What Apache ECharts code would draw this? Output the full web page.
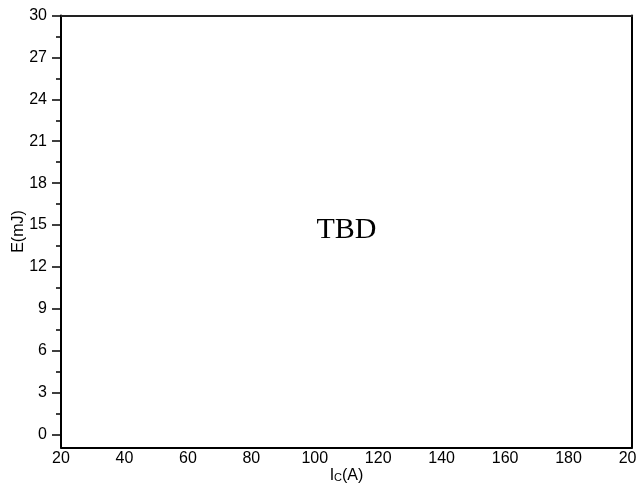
<!DOCTYPE html>
<html><head><meta charset="utf-8">
<script src="https://cdn.jsdelivr.net/npm/echarts@6/dist/echarts.min.js"></script>
<style>html,body{margin:0;padding:0;background:#fff}#c{width:636px;height:485px}</style>
</head><body><div id="c"></div>
<script>
const xMin = 20, xMax = 200, xStep = 20;
const yMin = -0.92, yMax = 30;
const yMajorTicks = [0, 3, 6, 9, 12, 15, 18, 21, 24, 27, 30];
const yMinorTicks = [1.5, 4.5, 7.5, 10.5, 13.5, 16.5, 19.5, 22.5, 25.5, 28.5];
const seriesData = [];
const placeholderText = 'TBD';

const chart = echarts.init(document.getElementById('c'), null, {renderer: 'canvas'});
const font = 'Liberation Sans, Arial, sans-serif';
const serif = 'Liberation Serif, Times New Roman, serif';
chart.setOption({
  animation: false,
  backgroundColor: '#fff',
  grid: {left: 61, right: 4, top: 15.5, bottom: 37.5, containLabel: false, outerBoundsMode: 'none'},
  xAxis: [{
    type: 'value', min: xMin, max: xMax, interval: xStep, position: 'bottom',
    axisLine: {show: true, onZero: false, lineStyle: {color: '#000', width: 2}},
    axisTick: {show: false}, splitLine: {show: false},
    axisLabel: {color: '#000', fontSize: 16, fontFamily: font, margin: 3, showMaxLabel: true, showMinLabel: true, hideOverlap: false},
    name: '{a|I}{b|C}{a|(A)}', nameLocation: 'middle', nameGap: 20, nameMoveOverlap: false,
    nameTextStyle: {rich: {a: {fontSize: 16, fontFamily: font, color: '#000'}, b: {fontSize: 11, fontFamily: font, color: '#000', padding:[4,0,0,0]}}}
  }, {
    type: 'value', min: xMin, max: xMax, position: 'top',
    axisLine: {show: true, onZero: false, lineStyle: {color: '#222', width: 2}},
    axisTick: {show: false}, axisLabel: {show: false}, splitLine: {show: false}
  }],
  yAxis: [{
    type: 'value', min: yMin, max: yMax, position: 'left',
    axisLine: {show: true, onZero: false, lineStyle: {color: '#000', width: 2}},
    axisTick: {show: true, length: 9, customValues: yMajorTicks, lineStyle: {color: '#000', width: 1.5}},
    axisLabel: {color: '#000', fontSize: 16, fontFamily: font, margin: 14, customValues: yMajorTicks},
    splitLine: {show: false},
    name: 'E(mJ)', nameLocation: 'middle', nameGap: 34, nameMoveOverlap: false,
    nameTextStyle: {fontSize: 16, fontFamily: font, color: '#000'}
  }, {
    type: 'value', min: yMin, max: yMax, position: 'left',
    axisLine: {show: false},
    axisTick: {show: true, length: 5, customValues: yMinorTicks, lineStyle: {color: '#000', width: 1.5}},
    axisLabel: {show: false}, splitLine: {show: false}
  }, {
    type: 'value', min: yMin, max: yMax, position: 'right',
    axisLine: {show: true, onZero: false, lineStyle: {color: '#000', width: 2}},
    axisTick: {show: false}, axisLabel: {show: false}, splitLine: {show: false}
  }],
  series: [{type: 'line', data: seriesData, xAxisIndex: 0, yAxisIndex: 0}]
});
// place the placeholder text at the plot centre via the axis scales
const cx = chart.convertToPixel({xAxisIndex: 0}, (xMin + xMax) / 2);
const cy = chart.convertToPixel({yAxisIndex: 0}, (yMin + yMax) / 2);
chart.setOption({graphic: [{type: 'text', x: cx, y: cy - 1,
  style: {text: placeholderText, fontSize: 30, fontFamily: serif, fill: '#000', align: 'center', verticalAlign: 'middle'}}]});
</script></body></html>
